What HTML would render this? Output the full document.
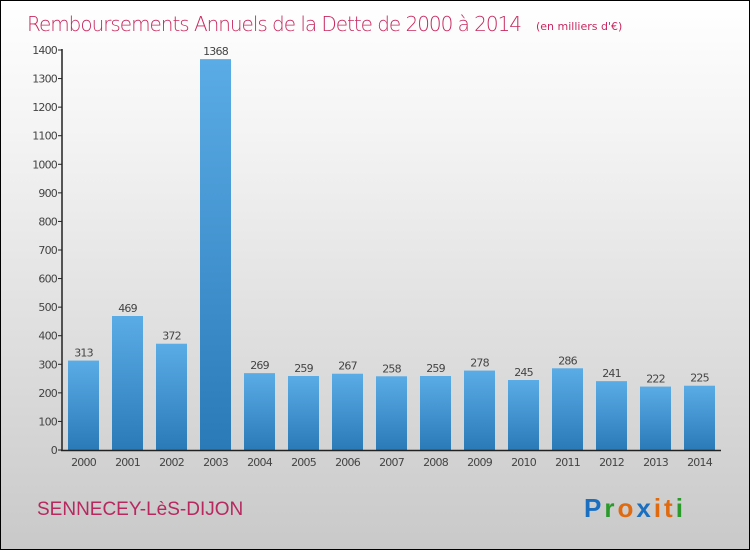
<!DOCTYPE html>
<html><head><meta charset="utf-8"><style>
body{margin:0}
#c{position:relative;width:748px;height:548px;border:1px solid #000;background:linear-gradient(#fff,#f3f3f3 25%,#c9c9c9);font-family:"DejaVu Sans","Liberation Sans",sans-serif;overflow:hidden}
</style></head><body>
<div id="c">
<svg width="748" height="548" style="position:absolute;left:0;top:0">
<defs><linearGradient id="bg" x1="0" y1="0" x2="0" y2="1"><stop offset="0" stop-color="#5aace6"/><stop offset="1" stop-color="#2a7ab8"/></linearGradient></defs>
<text x="26" y="30" font-size="20" fill="#c8285f" font-family="DejaVu Sans" style="font-weight:200" textLength="495">Remboursements Annuels de la Dette de 2000 à 2014</text>
<text x="535" y="29" font-size="11" fill="#c8285f">(en milliers d'€)</text>
<g id="plot"></g>
<text x="36" y="514" font-size="19" font-family="Liberation Sans" fill="#b8285f">SENNECEY-LèS-DIJON</text>
<text x="583" y="516" font-size="26" font-family="Liberation Sans" font-weight="bold" letter-spacing="3"><tspan fill="#1a6fc0">P</tspan><tspan fill="#2a9a2a">r</tspan><tspan fill="#e06a10">o</tspan><tspan fill="#1a6fc0">x</tspan><tspan fill="#e06a10">it</tspan><tspan fill="#2a9a2a">i</tspan></text>
</svg>
</div>
<script>
const years=["2000","2001","2002","2003","2004","2005","2006","2007","2008","2009","2010","2011","2012","2013","2014"];
const values=[313,469,372,1368,269,259,267,258,259,278,245,286,241,222,225];
const yTicks=[0,100,200,300,400,500,600,700,800,900,1000,1100,1200,1300,1400];
const ns="http://www.w3.org/2000/svg";
const g=document.getElementById('plot');
const y=v=>449-v*400/1400;
const x=i=>67+i*44;
function mk(t,a,txt){const e=document.createElementNS(ns,t);for(const k in a)e.setAttribute(k,a[k]);if(txt!=null)e.textContent=txt;g.appendChild(e);return e;}
yTicks.forEach(t=>{
 const tl=mk('line',{x1:57,x2:61,y1:y(t),y2:y(t),stroke:'#222'});
 
 
 const lb=mk('text',{x:56,y:y(t)+4,'font-size':11,fill:'#444','text-anchor':'end','letter-spacing':'-0.8'},t);
 
 
});
values.forEach((v,i)=>{
 const r=mk('rect',{x:x(i),y:y(v),width:31,height:449-y(v),fill:'url(#bg)'});
 
 
 const vl=mk('text',{x:x(i)+15.5,y:y(v)-4,'font-size':11,fill:'#444','text-anchor':'middle','letter-spacing':'-0.8'},v);
 
 
 const xl=mk('text',{x:x(i)+15.5,y:465,'font-size':11,fill:'#444','text-anchor':'middle','letter-spacing':'-0.8'},years[i]);
 
 
});
const ya=mk('line',{x1:61,x2:61,y1:48,y2:450,stroke:'#222','stroke-width':1.5});


const xa=mk('line',{x1:60,x2:720,y1:449.5,y2:449.5,stroke:'#222','stroke-width':1.5});


</script>
</body></html>
